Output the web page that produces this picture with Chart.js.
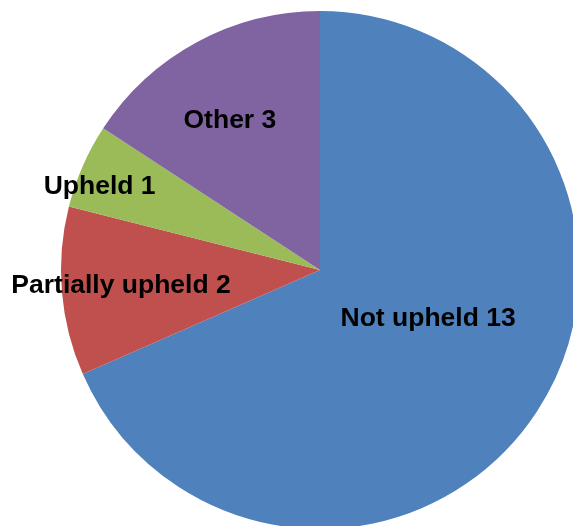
<!DOCTYPE html>
<html lang="en">
<head>
    <meta charset="UTF-8">
    <title>Complaints outcome</title>
    <script src="https://cdn.jsdelivr.net/npm/chart.js"></script>
    <style>
        html, body {
            margin: 0;
            padding: 0;
            width: 573px;
            height: 526px;
            overflow: hidden;
            background: #ffffff;
        }
        /* pie runs slightly past the right/bottom edge, so the canvas is bigger than the window */
        .chart-box {
            position: absolute;
            left: -200px;
            top: -100px;
            width: 1040px;
            height: 740px;
        }
    </style>
</head>
<body>
    <div class="chart-box">
        <canvas id="pieChart"></canvas>
    </div>

    <script>
        // Data
        const categories = ['Not upheld', 'Partially upheld', 'Upheld', 'Other'];
        const counts = [13, 2, 1, 3];

        // Slice colours (Office palette)
        const sliceColors = ['#4F81BD', '#C0504D', '#9BBB59', '#8064A2'];

        // Label placement: fraction of radius, angle shift from slice middle (deg)
        const labelRadius = [0.455, 0.77, 0.912, 0.679];
        const labelShift = [-9.7, 0.8, -2.6, -2.4];

        const sliceLabels = {
            id: 'sliceLabels',
            afterDatasetsDraw(chart) {
                const ctx = chart.ctx;
                const meta = chart.getDatasetMeta(0);
                ctx.save();
                ctx.font = 'bold 26.5px "Liberation Sans", Arial, sans-serif';
                ctx.fillStyle = '#000000';
                ctx.textAlign = 'center';
                ctx.textBaseline = 'middle';
                meta.data.forEach((arc, i) => {
                    const p = arc.getProps(['x', 'y', 'startAngle', 'endAngle', 'outerRadius'], true);
                    const a = (p.startAngle + p.endAngle) / 2 + labelShift[i] * Math.PI / 180;
                    const r = p.outerRadius * labelRadius[i];
                    const x = p.x + Math.cos(a) * r;
                    const y = p.y + Math.sin(a) * r + 2;
                    ctx.fillText(categories[i] + ' ' + counts[i], x, y);
                });
                ctx.restore();
            }
        };

        new Chart(document.getElementById('pieChart'), {
            type: 'pie',
            data: {
                labels: categories,
                datasets: [{
                    data: counts,
                    backgroundColor: sliceColors,
                    borderWidth: 0
                }]
            },
            options: {
                responsive: true,
                maintainAspectRatio: false,
                animation: false,
                layout: {
                    padding: { left: 261, right: 261, top: 111, bottom: 111 }
                },
                plugins: {
                    legend: { display: false },
                    tooltip: { enabled: false }
                }
            },
            plugins: [sliceLabels]
        });
    </script>
</body>
</html>
